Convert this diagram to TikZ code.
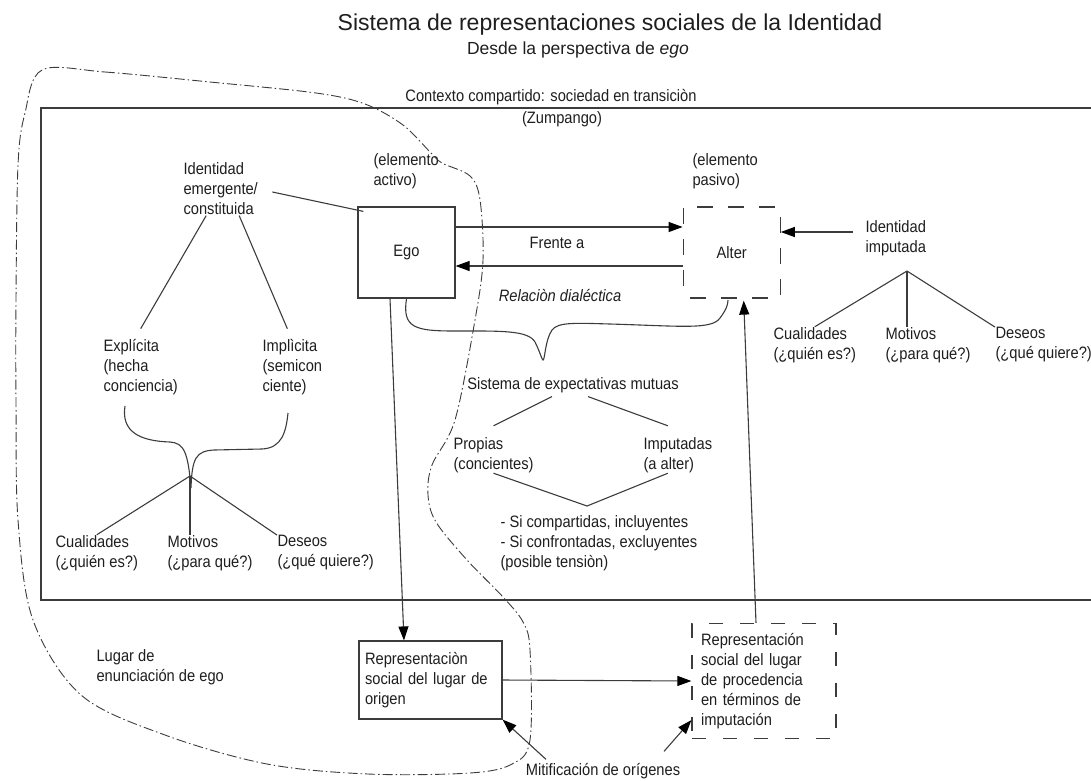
\documentclass[tikz,border=0pt]{standalone}
\usepackage{fontspec}
\setmainfont[FakeStretch=0.89]{Liberation Sans}
\newfontfamily\titlefont{Liberation Sans}
\usetikzlibrary{positioning,arrows.meta}
\definecolor{ink}{HTML}{1E1E1E}
\definecolor{edgegray}{HTML}{3C3C3C}

\begin{document}
\begin{tikzpicture}[x=1pt,y=-1pt,node distance=20pt,color=edgegray,text=ink,
  font=\fontsize{16.5}{20}\selectfont,line width=1.1pt,
  >={Triangle[length=14pt,width=10pt,color=black]},
  box/.style={draw,line width=1.2pt,minimum width=97pt,minimum height=91pt,inner sep=0pt},
  dbox/.style={box,dash pattern=on 16pt off 15pt,dash phase=24pt},
  txt/.style={align=left,inner sep=0pt,anchor=west},
  place/.style={dash pattern=on 10pt off 3pt on 1.5pt off 3pt,line width=0.9pt}]
\useasboundingbox (0,0) rectangle (1091,780);

% titles
\node[font=\titlefont\fontsize{23}{27}\selectfont] (title) at (610,25) {Sistema de representaciones sociales de la Identidad};
\node[font=\titlefont\fontsize{17.5}{21}\selectfont] (subtitle) at (578,50) {Desde la perspectiva de \textit{ego}};

% shared context
\draw[line width=1.2pt] (1091,108) -- (41,108) -- (41,600) -- (1091,600);
\node (ctx) at (551,97) {Contexto compartido: sociedad en transiciòn};
\node (zump) at (562,119) {(Zumpango)};

% ego / alter
\node[box] (ego) at (406.5,252.5) {Ego};
\node[dbox] (alter) [right=227pt of ego] {Alter};
\node[txt] (activo) at (373,171) {(elemento\\activo)};
\node[txt] (pasivo) at (692,171) {(elemento\\pasivo)};
\node (frente) at (557,243) {Frente a};
\node[font=\fontsize{16.5}{20}\selectfont\itshape] (dialect) at (560,296) {Relaciòn dialéctica};

% emergent identity
\node[txt] (id_emer) at (183,189) {Identidad\\emergente/\\constituida};
\node[txt] (expl) at (103,367) {Explícita\\(hecha\\conciencia)};
\node[txt] (impl) at (262,367) {Implìcita\\(semicon\\ciente)};
\node[txt] (l_cual) at (55,553) {Cualidades\\(¿quién es?)};
\node[txt] (l_mot) at (167,553) {Motivos\\(¿para qué?)};
\node[txt] (l_des) at (277,553) {Deseos\\(¿qué quiere?)};
\coordinate (l_top) at (190,476);
\coordinate (l_tip) at (191,488);

% imputed identity
\node[txt] (id_imp) at (865,238) {Identidad\\imputada};
\coordinate (r_top) at (907,271);
\node[txt] (r_cual) at (773,345) {Cualidades\\(¿quién es?)};
\node[txt] (r_mot) at (885,345) {Motivos\\(¿para qué?)};
\node[txt] (r_des) at (995,345) {Deseos\\(¿qué quiere?)};

% mutual expectations
\node (sist) at (573,385) {Sistema de expectativas mutuas};
\node[txt] (propias) at (453,455) {Propias\\(concientes)};
\node[txt] (imput) at (643,455) {Imputadas\\(a alter)};
\coordinate (v_low) at (587,506);
\node[txt] (si) at (500,543) {- Si compartidas, incluyentes\\- Si confrontadas, excluyentes\\(posible tensiòn)};

% places
\node[txt] (lugar) at (96,667) {Lugar de\\enunciación de ego};
\node[draw,line width=1.2pt,text width=131pt,align=left,inner xsep=6pt,minimum height=78pt] (rep_orig) at (430.5,680) {Representaciòn\\social del lugar de\\origen};
\node[draw,line width=1.2pt,dash pattern=on 14pt off 17pt,text width=126pt,align=left,inner xsep=9pt,minimum height=115pt] (rep_proc) at (764,681) {Representación\\social del lugar\\de procedencia\\en términos de\\imputación};
\node (mitif) at (603,771) {Mitificación de orígenes};

% trees
\draw ([xshift=14pt,yshift=-3pt]id_emer.east) -- ([xshift=6pt,yshift=-5pt]ego.north west);
\draw ([xshift=-14.5pt]id_emer.south) -- ([yshift=10pt]expl.north);
\draw ([xshift=18.5pt]id_emer.south) -- ([xshift=-5pt,yshift=10pt]impl.north);
\draw (l_top) -- (l_cual.north);
\draw (l_top) -- (l_top |- l_mot.north);
\draw (l_top) -- (l_des.north west);
\draw (r_top) -- (r_cual.north);
\draw (r_top) -- (r_top |- r_mot.north);
\draw (r_top) -- (r_des.north west);
\draw ([xshift=-21pt]sist.south) -- ([yshift=11pt]propias.north);
\draw ([xshift=15pt]sist.south) -- ([xshift=-10pt,yshift=11pt]imput.north);
\draw (propias.south) -- (v_low) -- ([xshift=-10pt]imput.south);

% braces
\draw (125,406) .. controls (121,432) and (140,441) .. (170,442)
  .. controls (184,443) and (188,452) .. (l_tip)
  .. controls (192,458) and (196,451) .. (214,450)
  -- (262,449) .. controls (282,448) and (286,432) .. (288,413);
\draw (ego.south) .. controls (402,328) and (415,331) .. (455,331)
  .. controls (500,331) and (528,330) .. (535,342)
  .. controls (540,352) and (542,360) .. (543,360)
  .. controls (545,360) and (545,340) .. (552,330)
  .. controls (558,322) and (575,323) .. (610,324)
  .. controls (680,326) and (712,330) .. (720,318)
  .. controls (726,310) and (728,305) .. (728,300);

% arrows
\path[->]
([yshift=25.5pt]ego.east) edge ([yshift=25.5pt]alter.west)
([yshift=-13.5pt]alter.west) edge ([yshift=-13.5pt]ego.east)
([xshift=-12pt,yshift=6pt]id_imp.west) edge ([yshift=20.5pt]alter.east)
([xshift=-16.5pt]ego.south) edge ([xshift=-26.5pt]rep_orig.north)
(rep_orig.east) edge (rep_proc.west)
([xshift=-8pt]rep_proc.north) edge ([xshift=12pt,yshift=-2pt]alter.south)
([xshift=24pt]mitif.north west) edge (rep_orig.south east)
([xshift=-20pt,yshift=8pt]mitif.north east) edge ([yshift=19pt]rep_proc.south west)
; %end path

% place of enunciation
\draw[place] plot[smooth cycle,tension=0.55] coordinates {
  (42,70) (105,72) (210,82) (316,93) (365,104) (403,125) (431,153) (442,163)
  (470,176) (480,200) (483,260) (475,320) (455,420) (432,465) (428,495)
  (436,522) (467,560) (503,597) (523,622) (530,650) (530,740) (512,764)
  (470,773) (368,774) (267,764) (165,735) (81,695) (33,620) (18,520)
  (16,400) (16,300) (18,165) (25,113)};
\end{tikzpicture}
\end{document}
